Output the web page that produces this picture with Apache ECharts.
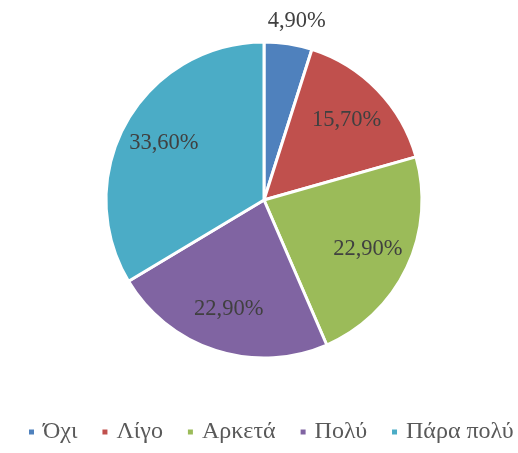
<!DOCTYPE html>
<html>
<head>
<meta charset="utf-8">
<script src="https://cdn.jsdelivr.net/npm/echarts@6/dist/echarts.min.js"></script>
<style>
  html, body { margin: 0; padding: 0; background: #fff; }
  #chart { width: 518px; height: 453px; }
</style>
</head>
<body>
<div id="chart"></div>
<script>
// categories and shares (%)
const categories = ["Όχι", "Λίγο", "Αρκετά", "Πολύ", "Πάρα πολύ"];
const values = [4.9, 15.7, 22.9, 22.9, 33.6];
const colors = ["#4F81BD", "#C0504D", "#9BBB59", "#8064A2", "#4BACC6"];

const font = "'Liberation Serif', 'Times New Roman', serif";
const pieData = categories.map((name, i) => ({ name, value: values[i] }));
const fmt = (p) => p.value.toFixed(2).replace(".", ",") + "%";

const chart = echarts.init(document.getElementById("chart"));
chart.setOption({
  animation: false,
  color: colors,
  legend: {
    bottom: 9,
    left: 27,
    right: 0,
    padding: 0,
    icon: "rect",
    itemWidth: 7,
    itemHeight: 7,
    itemGap: 23,
    textStyle: { fontFamily: font, fontSize: 24, color: "#595959", padding: [0, 0, 0, 3] },
    data: categories,
  },
  series: [
    {
      // visible slices
      type: "pie",
      center: [264, 200],
      radius: [0, 158],
      startAngle: 90,
      clockwise: true,
      silent: true,
      label: { show: false },
      labelLine: { show: false },
      itemStyle: { borderColor: "#fff", borderWidth: 3 },
      data: pieData,
    },
    {
      // transparent ring only used to place the labels
      type: "pie",
      center: [264, 200],
      radius: [66, 158],
      startAngle: 90,
      clockwise: true,
      silent: true,
      legendHoverLink: false,
      itemStyle: { color: "transparent" },
      label: {
        show: true,
        position: "inside",
        formatter: fmt,
        fontFamily: font,
        fontSize: 22.5,
        color: "#404040",
      },
      labelLine: { show: false, length: 23, length2: 0 },
      labelLayout: (p) => (p.dataIndex === 0 ? { align: "center" } : {}),
      data: pieData.map((d, i) =>
        i === 0 ? { ...d, label: { position: "outside" } } : d
      ),
    },
  ],
});
</script>
</body>
</html>
